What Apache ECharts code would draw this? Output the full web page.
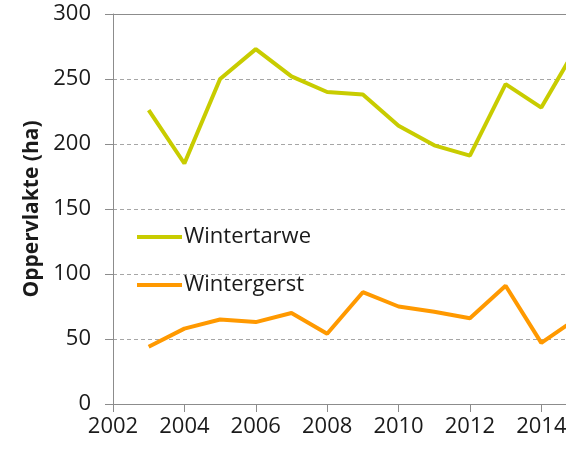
<!DOCTYPE html>
<html>
<head>
<meta charset="utf-8">
<script src="https://cdn.jsdelivr.net/npm/echarts@6/dist/echarts.min.js"></script>
<style>
  html, body { margin: 0; padding: 0; background: #fff; }
  #chart { width: 566px; height: 454px; }
</style>
</head>
<body>
<div id="chart"></div>
<script>
  // jaren en oppervlakte (ha)
  var years = [2003, 2004, 2005, 2006, 2007, 2008, 2009, 2010, 2011, 2012, 2013, 2014, 2015];
  var wintertarwe = [226, 185, 250, 273, 252, 240, 238, 214, 199, 191, 246, 228, 275];
  var wintergerst = [44, 58, 65, 63, 70, 54, 86, 75, 71, 66, 91, 47, 66];
  var yTicks = [0, 50, 100, 150, 200, 250, 300];

  var font = 'Open Sans';
  var axisGrey = '#8c8c8c';
  var textColor = '#1a1a1a';

  function pairs(vals) {
    return years.map(function (y, i) { return [y, vals[i]]; });
  }

  var chart = echarts.init(document.getElementById('chart'));
  chart.setOption({
    animation: false,
    // plot runs past the right edge of the picture (2015 is cut off)
    grid: { left: 113, top: 14, width: 464, height: 390, outerBoundsMode: 'none' },
    legend: {
      orient: 'vertical',
      left: 132,
      top: 221,
      itemWidth: 45,
      itemHeight: 4,
      itemGap: 26,
      icon: 'rect',
      textStyle: { fontFamily: font, fontSize: 22, color: textColor, padding: [0, 0, 0, -3] },
      data: ['Wintertarwe', 'Wintergerst']
    },
    xAxis: [{
      type: 'value',
      min: 2002,
      max: 2015,
      interval: 2,
      axisLine: { show: true, lineStyle: { color: axisGrey, width: 1 } },
      axisTick: { show: true, length: 8, lineStyle: { color: axisGrey } },
      splitLine: { show: false },
      axisLabel: {
        showMaxLabel: false,
        margin: 12,
        fontFamily: font, fontSize: 22, color: textColor,
        formatter: function (v) { return v % 2 === 0 ? String(v) : ''; }
      }
    }, {
      type: 'value',
      position: 'top',
      min: 2002,
      max: 2015,
      axisLine: { show: true, lineStyle: { color: axisGrey, width: 1 } },
      axisTick: { show: false },
      axisLabel: { show: false },
      splitLine: { show: false }
    }],
    yAxis: {
      type: 'value',
      min: yTicks[0],
      max: yTicks[yTicks.length - 1],
      interval: 50,
      name: 'Oppervlakte (ha)',
      nameLocation: 'middle',
      nameGap: 68,
      nameTextStyle: { fontFamily: font, fontSize: 21, fontWeight: 'bold', color: textColor },
      axisLine: { show: true, lineStyle: { color: axisGrey, width: 1 } },
      axisTick: { show: true, length: 8, lineStyle: { color: axisGrey } },
      axisLabel: { margin: 22, fontFamily: font, fontSize: 22, color: textColor },
      splitLine: { show: true, lineStyle: { color: '#a6a6a6', type: [4, 3], width: 1 } }
    },
    series: [{
      name: 'Wintertarwe',
      type: 'line',
      data: pairs(wintertarwe),
      symbol: 'none',
      itemStyle: { color: '#c8cc00' },
      lineStyle: { color: '#c8cc00', width: 4 }
    }, {
      name: 'Wintergerst',
      type: 'line',
      data: pairs(wintergerst),
      symbol: 'none',
      itemStyle: { color: '#ff9900' },
      lineStyle: { color: '#ff9900', width: 4 }
    }]
  });
</script>
</body>
</html>
